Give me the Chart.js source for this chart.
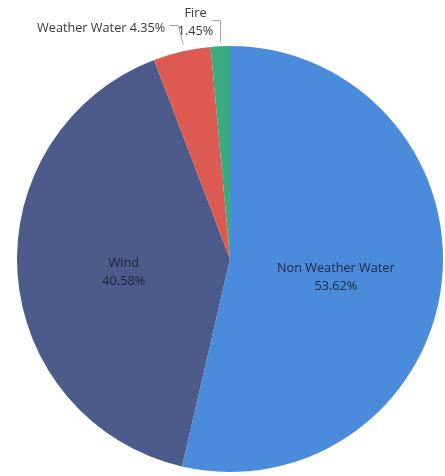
<!DOCTYPE html>
<html>
<head>
<meta charset="utf-8">
<script src="https://cdn.jsdelivr.net/npm/chart.js@4/dist/chart.umd.min.js"></script>
<style>
  html, body { margin: 0; padding: 0; background: #fff; }
  #wrap { width: 445px; height: 476px; }
</style>
</head>
<body>
<div id="wrap"><canvas id="myChart" width="445" height="476"></canvas></div>
<script>
const categories = ['Non Weather Water', 'Wind', 'Weather Water', 'Fire']
const shares = [53.62, 40.58, 4.35, 1.45]
const shareLabels = ['53.62%', '40.58%', '4.35%', '1.45%']
const sliceColors = ['#4A8BDB', '#4C5B8A', '#DC5A52', '#3BAA7F']
const insideSlices = [0, 1]

// labels: inside for the big slices, outside with leader lines for small ones
const sliceLabels = {
    id: 'sliceLabels',
    afterDatasetsDraw(chart) {
        const c = chart.ctx;
        const arcs = chart.getDatasetMeta(0).data;
        c.save();
        c.font = '12.7px "Open Sans", "Liberation Sans", sans-serif';
        c.textBaseline = 'middle';

        // inside labels
        insideSlices.forEach(i => {
            const a = arcs[i];
            const mid = (a.startAngle + a.endAngle) / 2;
            const r = a.outerRadius * 0.5;
            const x = a.x + Math.cos(mid) * r;
            const y = a.y + Math.sin(mid) * r + 6;
            c.fillStyle = '#1b2638';
            c.textAlign = 'center';
            c.fillText(categories[i], x, y - 9);
            c.fillText(shareLabels[i], x, y + 9);
        });

        c.strokeStyle = '#a6a6a6';
        c.lineWidth = 1;

        // Weather Water
        let a = arcs[2];
        let mid = (a.startAngle + a.endAngle) / 2;
        let ex = a.x + Math.cos(mid) * (a.outerRadius + 7);
        let ey = a.y + Math.sin(mid) * (a.outerRadius + 7);
        c.beginPath();
        c.moveTo(ex + 3, ey);
        c.lineTo(ex - 2, 25.5);
        c.lineTo(ex - 11, 25.5);
        c.stroke();
        c.fillStyle = '#383838';
        c.textAlign = 'right';
        c.fillText(categories[2] + ' ' + shareLabels[2], ex - 15, 28);

        // Fire
        a = arcs[3];
        mid = (a.startAngle + a.endAngle) / 2;
        ex = a.x + Math.cos(mid) * (a.outerRadius + 4);
        ey = a.y + Math.sin(mid) * (a.outerRadius + 4);
        const lx = Math.round(ex) + 0.5;
        c.beginPath();
        c.moveTo(lx, ey);
        c.lineTo(lx, 20.5);
        c.lineTo(lx - 8, 20.5);
        c.stroke();
        c.textAlign = 'center';
        c.fillText(categories[3], lx - 25, 13);
        c.fillText(shareLabels[3], lx - 25, 31);
        c.restore();
    }
}

const ctx = document.getElementById('myChart')
new Chart(ctx, {
    type: 'pie',
    data: {
        labels: categories,
        datasets: [{
            data: shares,
            backgroundColor: sliceColors,
            borderWidth: 0,
            hoverOffset: 0,
            offset: 0,
        }]
    },
    options: {
        responsive: false,
        animation: false,
        layout: { padding: { left: 15, right: 0, top: 46, bottom: 4 } },
        plugins: {
            legend: { display: false },
            tooltip: { enabled: false },
        }
    },
    plugins: [sliceLabels]
});
</script>
</body>
</html>
